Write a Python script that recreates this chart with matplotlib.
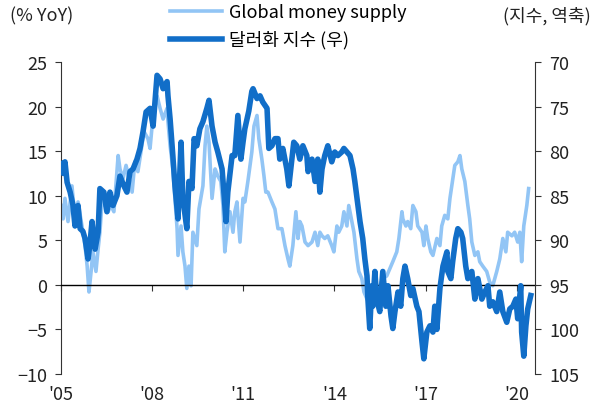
import matplotlib
matplotlib.use("Agg")
import matplotlib.pyplot as plt
import numpy as np

plt.rcParams['font.family'] = ['Noto Sans CJK KR', 'DejaVu Sans']

# Global money supply (% YoY), left axis
gms_t = [2005.00, 2005.07, 2005.13, 2005.23, 2005.36, 2005.46, 2005.56, 2005.69, 2005.79, 2005.86,
         2005.92, 2005.99, 2006.05, 2006.15, 2006.22, 2006.28, 2006.35, 2006.45, 2006.55, 2006.64,
         2006.74, 2006.88, 2006.94, 2007.04, 2007.14, 2007.24, 2007.34, 2007.43, 2007.53, 2007.63,
         2007.73, 2007.86, 2007.93, 2008.03, 2008.16, 2008.26, 2008.36, 2008.49, 2008.52, 2008.59,
         2008.68, 2008.75, 2008.82, 2008.85, 2008.95, 2009.01, 2009.08, 2009.14, 2009.21, 2009.28,
         2009.34, 2009.47, 2009.54, 2009.67, 2009.74, 2009.80, 2009.87, 2009.97, 2010.07, 2010.16,
         2010.26, 2010.33, 2010.39, 2010.46, 2010.56, 2010.66, 2010.72, 2010.79, 2010.89, 2010.99,
         2011.05, 2011.15, 2011.28, 2011.35, 2011.45, 2011.51, 2011.61, 2011.68, 2011.74, 2011.81,
         2011.94, 2012.04, 2012.14, 2012.27, 2012.37, 2012.47, 2012.53, 2012.63, 2012.73, 2012.80,
         2012.86, 2012.93, 2013.03, 2013.13, 2013.26, 2013.36, 2013.45, 2013.52, 2013.59, 2013.68,
         2013.78, 2013.91, 2013.98, 2014.08, 2014.14, 2014.24, 2014.31, 2014.41, 2014.47, 2014.57,
         2014.64, 2014.74, 2014.80, 2014.90, 2014.97, 2015.07, 2015.16, 2015.26, 2015.39, 2015.49,
         2015.59, 2015.72, 2015.82, 2015.92, 2016.05, 2016.12, 2016.22, 2016.25, 2016.35, 2016.41,
         2016.51, 2016.58, 2016.68, 2016.74, 2016.88, 2016.94, 2017.01, 2017.07, 2017.17, 2017.24,
         2017.37, 2017.47, 2017.53, 2017.63, 2017.73, 2017.80, 2017.86, 2017.96, 2018.06, 2018.13,
         2018.19, 2018.29, 2018.39, 2018.45, 2018.52, 2018.62, 2018.72, 2018.78, 2018.88, 2019.01,
         2019.11, 2019.21, 2019.34, 2019.44, 2019.54, 2019.64, 2019.70, 2019.84, 2019.93, 2020.03,
         2020.10, 2020.16, 2020.23, 2020.33, 2020.39]
gms_v = [8.9, 7.4, 9.7, 7.1, 11.1, 7.4, 9.3, 6.6, 4.4, 2.1,
         -0.8, 1.5, 3.7, 1.5, 4.0, 5.9, 9.3, 8.9, 8.2, 8.9,
         8.2, 14.5, 13.0, 11.9, 13.4, 11.9, 10.4, 13.8, 12.7, 14.9,
         17.2, 16.4, 15.3, 19.0, 21.2, 19.8, 18.6, 19.8, 18.3, 15.6,
         13.0, 9.7, 6.3, 3.3, 6.6, 3.7, 2.1, -0.4, 2.1, -0.1,
         5.9, 4.4, 8.5, 11.1, 15.6, 17.8, 16.0, 9.7, 13.0, 12.2,
         11.6, 8.9, 3.7, 5.9, 8.2, 5.9, 8.2, 9.3, 4.8, 9.7,
         9.3, 11.6, 14.9, 17.8, 19.0, 16.4, 14.1, 12.2, 10.4, 10.4,
         9.3, 8.5, 6.3, 6.3, 4.4, 2.9, 2.1, 4.4, 8.2, 5.2,
         7.1, 6.6, 4.8, 4.4, 4.8, 5.9, 4.4, 5.9, 5.5, 5.2,
         5.5, 4.4, 3.7, 6.6, 5.9, 6.6, 8.2, 6.6, 8.9, 7.1,
         5.9, 2.9, 1.5, 0.7, -0.8, -1.6, -1.9, -1.2, -0.4, -0.1,
         0.7, 1.0, 1.8, 2.6, 3.7, 5.2, 8.2, 7.4, 6.6, 7.1,
         6.3, 8.9, 8.2, 6.6, 5.9, 4.4, 6.6, 5.2, 3.7, 3.3,
         5.2, 4.4, 6.6, 7.8, 7.4, 9.7, 11.1, 13.4, 13.8, 14.5,
         13.0, 11.6, 8.9, 7.4, 4.8, 3.3, 3.7, 2.6, 2.1, 1.5,
         0.3, -0.1, 1.5, 2.9, 5.2, 3.7, 5.9, 5.5, 5.9, 4.8,
         5.9, 2.6, 6.6, 8.9, 10.8]

# Dollar index, right axis (inverted)
dxy_t = [2005.00, 2005.07, 2005.13, 2005.20, 2005.30, 2005.39, 2005.46, 2005.56, 2005.63, 2005.72,
         2005.79, 2005.89, 2005.95, 2006.02, 2006.12, 2006.22, 2006.28, 2006.41, 2006.51, 2006.61,
         2006.71, 2006.84, 2006.94, 2007.07, 2007.17, 2007.27, 2007.37, 2007.50, 2007.60, 2007.70,
         2007.80, 2007.93, 2008.03, 2008.16, 2008.26, 2008.36, 2008.49, 2008.52, 2008.59, 2008.68,
         2008.75, 2008.85, 2008.95, 2009.01, 2009.14, 2009.21, 2009.31, 2009.38, 2009.47, 2009.57,
         2009.67, 2009.80, 2009.87, 2009.97, 2010.07, 2010.16, 2010.30, 2010.36, 2010.43, 2010.49,
         2010.63, 2010.72, 2010.82, 2010.92, 2010.99, 2011.05, 2011.18, 2011.28, 2011.32, 2011.45,
         2011.55, 2011.64, 2011.78, 2011.84, 2011.94, 2012.04, 2012.14, 2012.20, 2012.30, 2012.43,
         2012.50, 2012.60, 2012.66, 2012.76, 2012.86, 2012.96, 2013.09, 2013.13, 2013.26, 2013.36,
         2013.45, 2013.52, 2013.59, 2013.68, 2013.78, 2013.91, 2014.01, 2014.11, 2014.24, 2014.31,
         2014.41, 2014.51, 2014.61, 2014.67, 2014.77, 2014.84, 2014.93, 2015.00, 2015.07, 2015.10,
         2015.16, 2015.23, 2015.26, 2015.33, 2015.39, 2015.49, 2015.59, 2015.69, 2015.76, 2015.86,
         2015.92, 2015.99, 2016.09, 2016.18, 2016.25, 2016.32, 2016.41, 2016.51, 2016.58, 2016.71,
         2016.78, 2016.88, 2016.94, 2017.04, 2017.14, 2017.24, 2017.30, 2017.37, 2017.47, 2017.57,
         2017.70, 2017.73, 2017.83, 2017.89, 2017.99, 2018.06, 2018.16, 2018.22, 2018.32, 2018.39,
         2018.52, 2018.62, 2018.72, 2018.85, 2018.95, 2019.05, 2019.11, 2019.21, 2019.34, 2019.44,
         2019.54, 2019.67, 2019.77, 2019.87, 2019.97, 2020.03, 2020.13, 2020.16, 2020.23, 2020.30,
         2020.36, 2020.46]
dxy_v = [81.4, 82.5, 81.2, 83.5, 84.6, 86.0, 88.4, 86.1, 88.7, 89.0,
         89.8, 92.1, 90.5, 87.9, 91.0, 89.1, 84.2, 84.6, 86.8, 84.6,
         86.1, 85.0, 82.8, 83.9, 84.6, 82.3, 82.0, 80.9, 79.7, 77.8,
         75.6, 75.2, 77.2, 71.5, 71.9, 73.0, 72.2, 73.8, 76.4, 80.5,
         83.9, 87.6, 79.0, 85.3, 88.7, 83.4, 84.2, 78.6, 79.4, 77.5,
         76.7, 75.2, 74.3, 77.2, 79.0, 80.1, 82.0, 84.6, 87.9, 84.6,
         80.5, 80.5, 76.0, 80.9, 79.0, 77.5, 75.5, 73.3, 73.0, 74.1,
         73.8, 74.5, 75.2, 79.7, 79.4, 78.6, 78.6, 80.9, 79.7, 82.0,
         83.9, 80.9, 79.0, 79.4, 80.9, 79.4, 80.5, 82.3, 80.9, 83.4,
         80.9, 84.6, 82.0, 80.5, 79.4, 81.2, 80.1, 80.5, 80.1, 79.7,
         80.1, 80.5, 82.0, 83.4, 86.1, 87.9, 89.8, 92.1, 94.0, 96.6,
         99.9, 95.1, 97.4, 93.5, 96.6, 98.0, 93.5, 97.4, 95.1, 98.5,
         99.9, 98.0, 95.8, 97.4, 94.3, 92.9, 94.3, 96.2, 95.4, 97.4,
         98.0, 101.4, 103.3, 100.3, 99.6, 100.3, 97.4, 100.0, 95.4, 92.9,
         91.3, 93.5, 94.3, 92.4, 89.8, 88.7, 89.1, 89.8, 92.9, 94.3,
         93.5, 96.6, 94.3, 96.6, 95.8, 95.1, 97.4, 96.9, 98.0, 95.8,
         98.0, 99.2, 97.7, 97.4, 96.6, 98.8, 95.1, 100.3, 103.0, 99.6,
         97.7, 96.2]

x_ticks = [2005, 2008, 2011, 2014, 2017, 2020]
x_labels = ["'05", "'08", "'11", "'14", "'17", "'20"]
left_ticks = [-10, -5, 0, 5, 10, 15, 20, 25]
right_ticks = [70, 75, 80, 85, 90, 95, 100, 105]

light = '#92c5f5'
dark = '#116ec8'
axc = '#333333'
txt = '#222222'

fig = plt.figure(figsize=(6.0, 4.06), dpi=100)
ax1 = fig.add_axes([0.1017, 0.0764, 0.79, 0.7685])
ax2 = ax1.twinx()

l1, = ax1.plot(gms_t, gms_v, color=light, lw=2.6, solid_joinstyle='round', zorder=2,
               label='Global money supply')
l2, = ax2.plot(dxy_t, dxy_v, color=dark, lw=4.0, solid_joinstyle='round', zorder=3,
               label='달러화 지수 (우)')

ax1.set_xlim(2005, 2020.6)
ax1.set_ylim(-10, 25)
ax2.set_ylim(105, 70)

ax1.set_yticks(left_ticks)
ax2.set_yticks(right_ticks)
ax1.set_xticks(x_ticks)
ax1.set_xticklabels(x_labels)

for s in ['top', 'right']:
    ax1.spines[s].set_visible(False)
for s in ['top', 'bottom', 'left']:
    ax2.spines[s].set_visible(False)
ax1.spines['left'].set_color(axc)
ax2.spines['right'].set_color(axc)
ax1.spines['bottom'].set_position(('data', 0))
ax1.spines['bottom'].set_color('black')
ax1.spines['bottom'].set_linewidth(1.0)
ax1.spines['bottom'].set_zorder(4)

fs = 13
ax1.tick_params(axis='y', direction='out', length=4, color=axc, labelsize=fs, labelcolor=txt, pad=6)
ax2.tick_params(axis='y', direction='out', length=4, color=axc, labelsize=fs, labelcolor=txt, pad=6)
ax1.tick_params(axis='x', direction='out', length=4, color=axc, labelsize=fs, labelcolor=txt, pad=68)

fig.text(0.017, 0.96, '(% YoY)', fontsize=fs, color=txt, va='center', ha='left')
fig.text(0.985, 0.96, '(지수, 역축)', fontsize=fs, color=txt, va='center', ha='right')

fig.legend(handles=[l1, l2], loc='upper left', bbox_to_anchor=(0.279, 0.997), frameon=False,
           fontsize=fs, handlelength=2.9, handletextpad=0.35, labelspacing=0.52,
           borderaxespad=0.0, borderpad=0.15)

fig.savefig('out.png', dpi=100)
